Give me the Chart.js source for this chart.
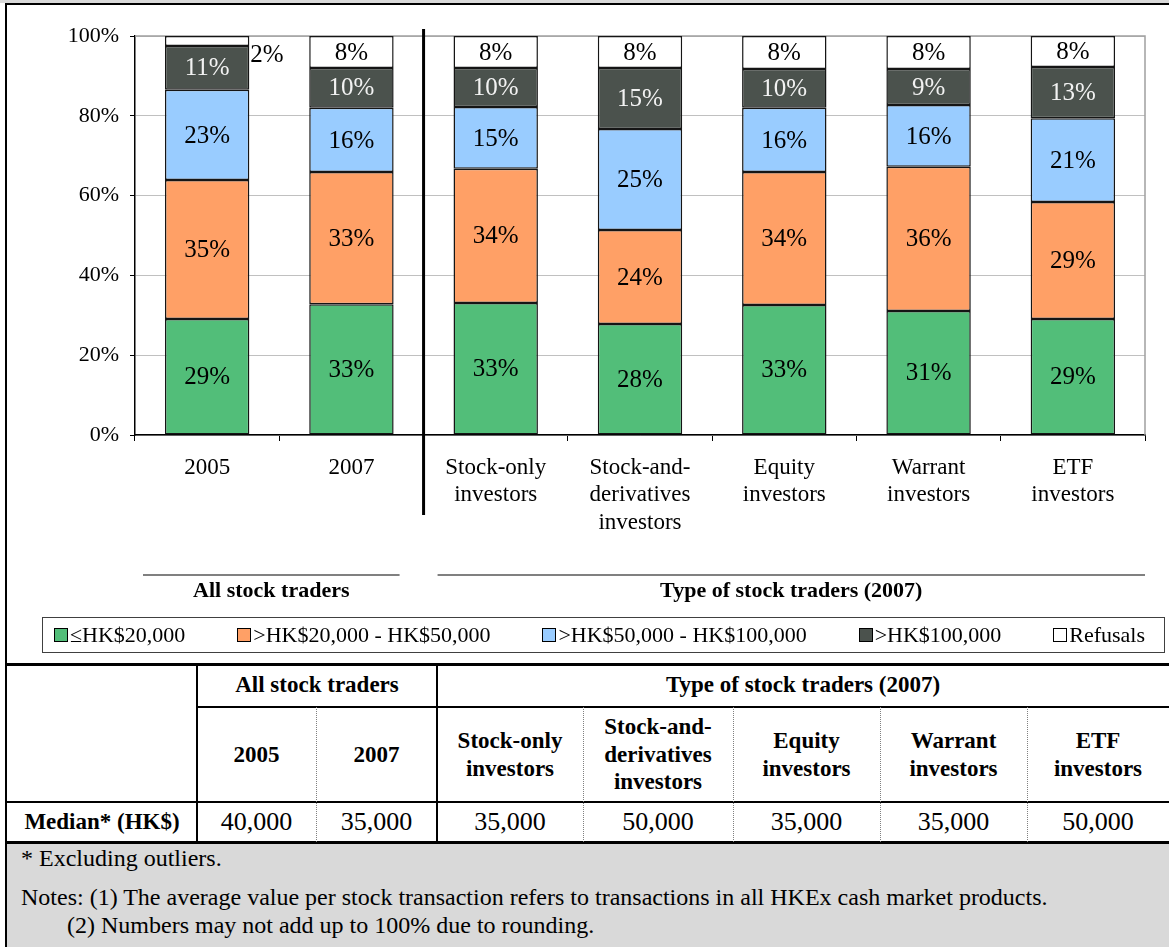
<!DOCTYPE html>
<html>
<head>
<meta charset="utf-8">
<script src="https://cdn.jsdelivr.net/npm/chart.js@4.4.0/dist/chart.umd.min.js"></script>
<style>
  html, body { margin: 0; padding: 0; background: #fff; }
  #page { position: relative; width: 1169px; height: 947px; overflow: hidden; background: #fff;
          font-family: "Liberation Serif", "Times New Roman", serif; color: #000; }
  .abs { position: absolute; }
  #legend { position: absolute; left: 42px; top: 617px;
            border: 1.5px solid #404040; display: flex; justify-content: space-between; align-items: center;
            padding: 0 19px 0 11px; box-sizing: border-box; width: 1123px; height: 36px; font-size: 22px; }
  .item { display: flex; align-items: center; white-space: nowrap; }
  .sw { width: 12px; height: 12px; border: 1px solid #000; margin-right: 2px; }
  .cell { position: absolute; display: flex; align-items: center; justify-content: center; text-align: center; }
  .hdr { font-weight: bold; font-size: 23px; line-height: 1.2; }
  .val { font-size: 26px; }
  .note { position: absolute; font-size: 24px; white-space: nowrap; line-height: 28px; }
</style>
</head>
<body>
<div id="page">
  <div class="abs" style="left:0;top:0;width:1169px;height:3px;background:#d9d9d9"></div>
  <div class="abs" style="left:5px;top:3px;width:1164px;height:2px;background:#000"></div>
  <div class="abs" style="left:5px;top:3px;width:2px;height:944px;background:#000"></div>
  <canvas id="c" width="1162" height="658" style="position:absolute;left:7px;top:5px"></canvas>
  <div id="legend"></div>
  <div id="table"></div>
  <div class="abs" style="left:7px;top:844px;width:1162px;height:103px;background:#d9d9d9"></div>
  <div id="notes"></div>
</div>
<script>
// ---- data ----
const categories = ['2005', '2007', ['Stock-only', 'investors'], ['Stock-and-', 'derivatives', 'investors'],
                    ['Equity', 'investors'], ['Warrant', 'investors'], ['ETF', 'investors']];
const seriesNames = ['\u2264HK$20,000', '>HK$20,000 - HK$50,000', '>HK$50,000 - HK$100,000', '>HK$100,000', 'Refusals'];
const upTo20k       = [29.1, 32.8, 33.1, 27.8, 32.6, 31.1, 29.1];
const from20kTo50k  = [34.8, 33.1, 33.6, 23.6, 33.3, 36.1, 29.3];
const from50kTo100k = [22.6, 16.1, 15.5, 25.3, 16.1, 15.5, 21.0];
const over100k      = [11.0, 10.0,  9.8, 15.3,  9.7,  9.0, 12.8];
const refusals      = [ 2.5,  8.0,  8.0,  8.0,  8.3,  8.3,  7.8];
// printed (rounded) labels
const labUpTo20k       = [29, 33, 33, 28, 33, 31, 29];
const labFrom20kTo50k  = [35, 33, 34, 24, 34, 36, 29];
const labFrom50kTo100k = [23, 16, 15, 25, 16, 16, 21];
const labOver100k      = [11, 10, 10, 15, 10,  9, 13];
const labRefusals      = [ 2,  8,  8,  8,  8,  8,  8];
const yTicks = [0, 20, 40, 60, 80, 100];
const groupTitles = ['All stock traders', 'Type of stock traders (2007)'];
const tableColumns = ['2005', '2007', 'Stock-only<br>investors', 'Stock-and-<br>derivatives<br>investors',
                      'Equity<br>investors', 'Warrant<br>investors', 'ETF<br>investors'];
const medianLabel = 'Median* (HK$)';
const medians = ['40,000', '35,000', '35,000', '50,000', '35,000', '35,000', '50,000'];
const noteLines = ['* Excluding outliers.',
  'Notes: (1) The average value per stock transaction refers to transactions in all HKEx cash market products.',
  '(2) Numbers may not add up to 100% due to rounding.'];

const seriesValues = [upTo20k, from20kTo50k, from50kTo100k, over100k, refusals];
const seriesLabels = [labUpTo20k, labFrom20kTo50k, labFrom50kTo100k, labOver100k, labRefusals];
const seriesColors = ['#52BE79', '#FFA066', '#99CCFF', '#4B524D', '#FFFFFF'];
const labelColors  = ['#000', '#000', '#000', '#F2F2F2', '#000'];
const FAMILY = '"Liberation Serif", "Times New Roman", serif';

// ---- plugins ----
const framePlugin = {
  id: 'frame',
  beforeDatasetsDraw(chart) {
    const {ctx, chartArea: a} = chart;
    ctx.save();
    ctx.strokeStyle = '#a0a0a0'; ctx.lineWidth = 1.5;
    ctx.beginPath();
    ctx.moveTo(a.left, a.top); ctx.lineTo(a.right, a.top); ctx.lineTo(a.right, a.bottom);
    ctx.stroke();
    ctx.restore();
  }
};
const labelPlugin = {
  id: 'vlabels',
  afterDatasetsDraw(chart) {
    const ctx = chart.ctx;
    ctx.save();
    ctx.font = '25px ' + FAMILY;
    chart.data.datasets.forEach((ds, di) => {
      const meta = chart.getDatasetMeta(di);
      meta.data.forEach((bar, i) => {
        const p = bar.getProps(['x', 'y', 'base', 'width'], true);
        const h = Math.abs(p.base - p.y);
        const txt = seriesLabels[di][i] + '%';
        if (h >= 20) {
          ctx.fillStyle = labelColors[di];
          ctx.textAlign = 'center'; ctx.textBaseline = 'middle';
          ctx.fillText(txt, p.x, (p.y + p.base) / 2 + 1);
        } else {
          ctx.fillStyle = '#000';
          ctx.textAlign = 'left'; ctx.textBaseline = 'middle';
          ctx.fillText(txt, p.x + p.width / 2 + 1, Math.min(p.y, p.base) + 19);
        }
      });
    });
    ctx.restore();
  }
};
const separatorPlugin = {
  id: 'separator',
  afterDatasetsDraw(chart) {
    const {ctx, chartArea: a, scales: {x}} = chart;
    const sx = (x.getPixelForValue(1) + x.getPixelForValue(2)) / 2;
    ctx.save();
    ctx.strokeStyle = '#000'; ctx.lineWidth = 3;
    ctx.beginPath(); ctx.moveTo(sx, a.top - 7); ctx.lineTo(sx, a.bottom + 80); ctx.stroke();
    // group captions
    const groups = [
      {left: a.left + 8, right: sx - 24, title: groupTitles[0]},
      {left: sx + 14, right: a.right, title: groupTitles[1]}
    ];
    ctx.strokeStyle = '#808080'; ctx.lineWidth = 2;
    ctx.fillStyle = '#000';
    ctx.font = 'bold 22px ' + FAMILY;
    ctx.textAlign = 'center'; ctx.textBaseline = 'middle';
    groups.forEach(g => {
      ctx.beginPath(); ctx.moveTo(g.left, a.bottom + 140); ctx.lineTo(g.right, a.bottom + 140); ctx.stroke();
      ctx.fillText(g.title, (g.left + g.right) / 2, a.bottom + 156);
    });
    ctx.restore();
  }
};

Chart.defaults.color = '#000';
Chart.defaults.font.family = FAMILY;

new Chart(document.getElementById('c'), {
  type: 'bar',
  data: {
    labels: categories,
    datasets: seriesValues.map((vals, i) => ({
      label: seriesNames[i], data: vals, backgroundColor: seriesColors[i],
      borderColor: '#151515', borderWidth: 1.5, borderSkipped: false,
      barPercentage: 0.585, categoryPercentage: 1
    }))
  },
  options: {
    responsive: false, animation: false, devicePixelRatio: 1,
    layout: {padding: {left: 0, right: 24, top: 31, bottom: 0}},
    plugins: {legend: {display: false}, tooltip: {enabled: false}},
    scales: {
      x: {
        stacked: true,
        grid: {display: true, drawOnChartArea: false, offset: true, tickLength: 6, tickColor: '#000', tickWidth: 1},
        border: {color: '#000', width: 1.5},
        ticks: {font: {size: 23, lineHeight: 1.2}, color: '#000', padding: 13, maxRotation: 0, minRotation: 0, autoSkip: false},
        afterFit: s => { s.height = 228; }
      },
      y: {
        stacked: true, min: yTicks[0], max: yTicks[yTicks.length - 1],
        afterBuildTicks: s => { s.ticks = yTicks.map(v => ({value: v})); },
        ticks: {callback: v => v + '%', font: {size: 22}, color: '#000', padding: 11},
        grid: {color: '#c0c0c0', tickColor: '#000', tickLength: 5, lineWidth: 1},
        border: {color: '#000', width: 1.5},
        afterFit: s => { s.width = 128; }
      }
    }
  },
  plugins: [framePlugin, labelPlugin, separatorPlugin]
});

// ---- legend (built from the series arrays) ----
const lg = document.getElementById('legend');
seriesNames.forEach((n, i) => {
  const it = document.createElement('div'); it.className = 'item';
  const sw = document.createElement('div'); sw.className = 'sw'; sw.style.background = seriesColors[i];
  const tx = document.createElement('span'); tx.textContent = n;
  it.appendChild(sw); it.appendChild(tx); lg.appendChild(it);
});

// ---- table ----
const tb = document.getElementById('table');
const colEdges = [7, 197, 316, 437, 583, 733, 880, 1027, 1169];
function box(l, t, w, h, style) {
  const d = document.createElement('div'); d.className = 'abs';
  d.style.cssText += `left:${l}px;top:${t}px;width:${w}px;height:${h}px;` + (style || '');
  tb.appendChild(d); return d;
}
function cell(l, t, w, h, html, cls) {
  const d = document.createElement('div'); d.className = 'cell ' + cls;
  d.style.cssText = `left:${l}px;top:${t}px;width:${w}px;height:${h}px;`;
  d.innerHTML = html; tb.appendChild(d); return d;
}
const R0 = 663, R1 = 707, R2 = 802, R3 = 842;
cell(colEdges[1], R0, colEdges[3] - colEdges[1], R1 - R0, groupTitles[0], 'hdr');
cell(colEdges[3], R0, colEdges[8] - colEdges[3], R1 - R0, groupTitles[1], 'hdr');
tableColumns.forEach((c, i) => cell(colEdges[i + 1], R1, colEdges[i + 2] - colEdges[i + 1], R2 - R1, c, 'hdr'));
cell(colEdges[0], R2, colEdges[1] - colEdges[0], R3 - R2, medianLabel, 'hdr');
medians.forEach((m, i) => cell(colEdges[i + 1], R2, colEdges[i + 2] - colEdges[i + 1], R3 - R2, m, 'val'));
// rules
box(5, R0, 1164, 3, 'background:#000');
box(colEdges[1], R1 - 1, 1169 - colEdges[1], 2, 'background:#000');
box(5, R2 - 1, 1164, 2, 'background:#000');
box(5, R3 - 1, 1164, 3, 'background:#000');
box(colEdges[1] - 1, R0, 2, R3 - R0, 'background:#000');
box(colEdges[3] - 1, R0, 2, R3 - R0, 'background:#000');
[2, 4, 5, 6, 7].forEach(k => box(colEdges[k], R1, 0, R3 - R1, 'border-left:1px dotted #808080'));

// ---- notes ----
const nt = document.getElementById('notes');
[[21, 844], [21, 883], [67, 911]].forEach((pos, i) => {
  const d = document.createElement('div'); d.className = 'note';
  d.style.left = pos[0] + 'px'; d.style.top = pos[1] + 'px';
  d.textContent = noteLines[i]; nt.appendChild(d);
});
</script>
</body>
</html>
